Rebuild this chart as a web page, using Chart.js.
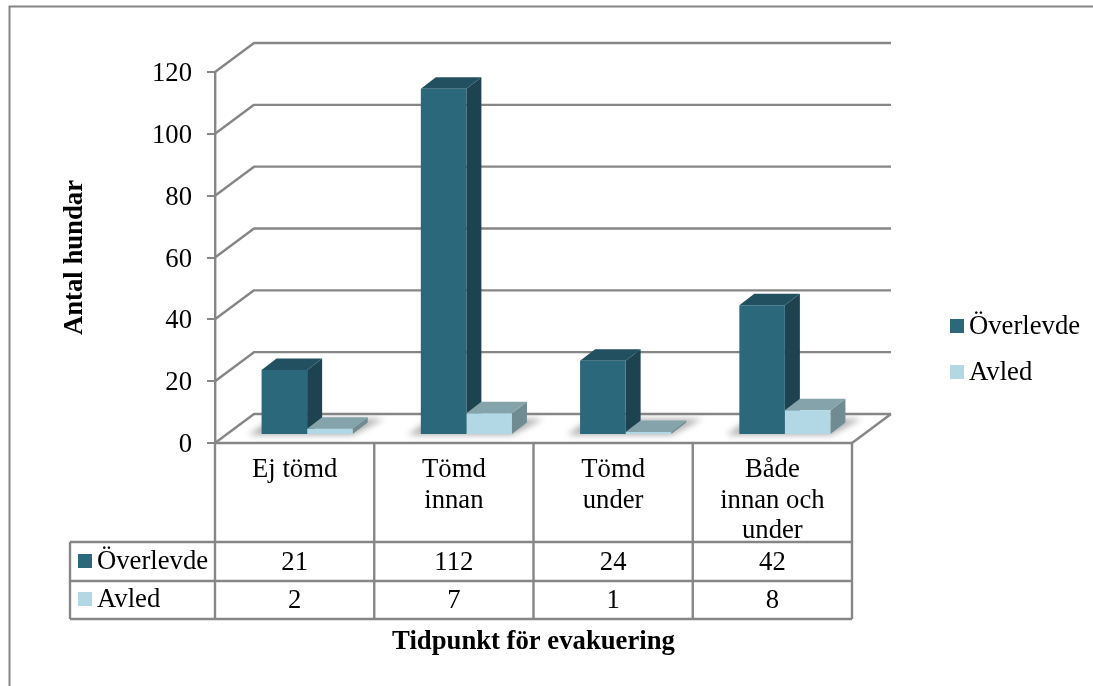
<!DOCTYPE html>
<html>
<head>
<meta charset="utf-8">
<title>Tidpunkt för evakuering</title>
<style>
html, body { margin: 0; background: #fff; }
canvas { display: block; }
</style>
<script src="https://cdn.jsdelivr.net/npm/chart.js@4"></script>
</head>
<body>
<canvas id="chart" width="1093" height="686"></canvas>
<script>
const categories = [['Ej tömd'], ['Tömd', 'innan'], ['Tömd', 'under'], ['Både', 'innan och', 'under']];
const survived = [21, 112, 24, 42];
const died = [2, 7, 1, 8];
const seriesNames = ['Överlevde', 'Avled'];

const FONT = '"Liberation Serif", "Times New Roman", serif';
const FONT_SIZE = 26.7;
const GREY = '#868686';
const textFont = `${FONT_SIZE}px ${FONT}`;

// front, top and side colours of the boxes
const faces = [
    {front: '#2c687c', top: '#225060', side: '#1d4350'},
    {front: '#b1d8e4', top: '#85a3ab', side: '#708b92'}
];

// how far the back wall sits from the front plane, and a box's depth
const wall = {dx: 39, dy: -29};
const box = {dx: 15, dy: -11.5};
const barShift = {x: 12.5, y: -8};

function line(ctx, x1, y1, x2, y2) {
    ctx.beginPath();
    ctx.moveTo(x1, y1);
    ctx.lineTo(x2, y2);
    ctx.stroke();
}

function poly(ctx, pts, color) {
    ctx.fillStyle = color;
    ctx.beginPath();
    pts.forEach((p, i) => i ? ctx.lineTo(p[0], p[1]) : ctx.moveTo(p[0], p[1]));
    ctx.closePath();
    ctx.fill();
}

function drawKey(ctx, x, y, i, label) {
    ctx.fillStyle = faces[i].front;
    ctx.fillRect(x, y, 14, 14);
    ctx.fillStyle = '#000';
    ctx.font = textFont;
    ctx.textAlign = 'left';
    ctx.textBaseline = 'alphabetic';
    ctx.fillText(label, x + 19, y + 15);
}

const frame = {
    id: 'frame',
    beforeDraw(chart) {
        const ctx = chart.ctx;
        ctx.save();
        ctx.strokeStyle = GREY;
        ctx.lineWidth = 2;
        ctx.beginPath();
        ctx.moveTo(9.5, 686);
        ctx.lineTo(9.5, 6.5);
        ctx.lineTo(1093, 6.5);
        ctx.stroke();
        ctx.restore();
    }
};

// back wall, floor and the data table under the axis
const room = {
    id: 'room',
    beforeDatasetsDraw(chart) {
        const {ctx, chartArea: a, scales} = chart;
        ctx.save();
        ctx.strokeStyle = GREY;
        ctx.lineWidth = 2.4;
        ctx.lineJoin = 'round';
        scales.y.ticks.forEach(t => {
            const y = scales.y.getPixelForValue(t.value);
            ctx.beginPath();
            ctx.moveTo(a.left, y);
            ctx.lineTo(a.left + wall.dx, y + wall.dy);
            ctx.lineTo(a.right + wall.dx, y + wall.dy);
            ctx.stroke();
        });
        line(ctx, a.right, a.bottom, a.right + wall.dx, a.bottom + wall.dy);
        line(ctx, a.left, a.bottom, a.right, a.bottom);

        const tableTop = 542, rowMid = 581, tableBottom = 619, headLeft = 70;
        const cell = (a.right - a.left) / categories.length;
        for (let i = 0; i <= categories.length; i++) {
            const x = a.left + i * cell;
            line(ctx, x, a.bottom, x, tableBottom);
        }
        line(ctx, headLeft, tableTop, a.right, tableTop);
        line(ctx, headLeft, rowMid, a.right, rowMid);
        line(ctx, headLeft, tableBottom, a.right, tableBottom);
        line(ctx, headLeft, tableTop, headLeft, tableBottom);

        drawKey(ctx, 78, 554, 0, seriesNames[0]);
        drawKey(ctx, 78, 592, 1, seriesNames[1]);
        ctx.fillStyle = '#000';
        ctx.font = textFont;
        ctx.textAlign = 'center';
        [survived, died].forEach((row, r) => {
            row.forEach((v, i) => {
                ctx.fillText(String(v), a.left + (i + 0.5) * cell, r ? 608 : 570);
            });
        });

        // legend on the right
        drawKey(ctx, 950, 319, 0, seriesNames[0]);
        drawKey(ctx, 950, 365, 1, seriesNames[1]);

        // soft shadow on the floor
        const first = chart.getDatasetMeta(0).data;
        const second = chart.getDatasetMeta(1).data;
        ctx.filter = 'blur(3px)';
        first.forEach((b, i) => {
            const left = b.x - b.width / 2 + barShift.x;
            const right = second[i].x + second[i].width / 2 + barShift.x;
            const base = b.base + barShift.y;
            poly(ctx, [[left - 13, base + 1], [right, base + 1], [right + 31, base - 15], [left + 10, base - 15]], 'rgba(110,110,110,0.55)');
        });
        ctx.restore();

        // the boxes stand a little behind the front plane
        ctx.save();
        ctx.translate(barShift.x, barShift.y);

        // Chart.js paints dataset 0 last, so the side and top faces go down first, left series before right
        [0, 1].forEach(d => {
            const f = faces[d];
            chart.getDatasetMeta(d).data.forEach(b => {
                const l = b.x - b.width / 2, r = b.x + b.width / 2;
                poly(ctx, [[r, b.y], [r + box.dx, b.y + box.dy], [r + box.dx, b.base + box.dy], [r, b.base]], f.side);
                poly(ctx, [[l, b.y], [l + box.dx, b.y + box.dy], [r + box.dx, b.y + box.dy], [r, b.y]], f.top);
            });
        });
    },
    afterDatasetsDraw(chart) {
        chart.ctx.restore();
    }
};

new Chart(document.getElementById('chart'), {
    type: 'bar',
    data: {
        labels: categories,
        datasets: [
            {label: seriesNames[0], data: survived, backgroundColor: faces[0].front, clip: false},
            {label: seriesNames[1], data: died, backgroundColor: faces[1].front, clip: false}
        ]
    },
    plugins: [frame, room],
    options: {
        responsive: false,
        animation: false,
        barPercentage: 1,
        categoryPercentage: 0.572,
        layout: {padding: {left: 59, right: 241, top: 72, bottom: 28}},
        plugins: {legend: {display: false}, tooltip: {enabled: false}},
        scales: {
            x: {
                afterFit(s) { s.height = 215; },
                grid: {display: false},
                border: {display: false},
                ticks: {
                    padding: 4,
                    color: '#000',
                    maxRotation: 0,
                    autoSkip: false,
                    font: {family: FONT, size: FONT_SIZE, lineHeight: 1.14}
                },
                title: {
                    display: true,
                    text: 'Tidpunkt för evakuering',
                    color: '#000',
                    padding: 0,
                    font: {family: FONT, size: FONT_SIZE, weight: 'bold', lineHeight: 1.2}
                }
            },
            y: {
                min: 0,
                max: 120,
                afterFit(s) { s.width = 156; },
                grid: {drawOnChartArea: false, color: GREY, lineWidth: 2, tickLength: 8},
                border: {color: GREY, width: 2.4},
                ticks: {
                    stepSize: 20,
                    padding: 15,
                    labelOffset: 2,
                    color: '#000',
                    font: {family: FONT, size: FONT_SIZE}
                },
                title: {
                    display: true,
                    text: 'Antal hundar',
                    color: '#000',
                    padding: 0,
                    font: {family: FONT, size: FONT_SIZE, weight: 'bold', lineHeight: 1.2}
                }
            }
        }
    }
});
</script>
</body>
</html>
